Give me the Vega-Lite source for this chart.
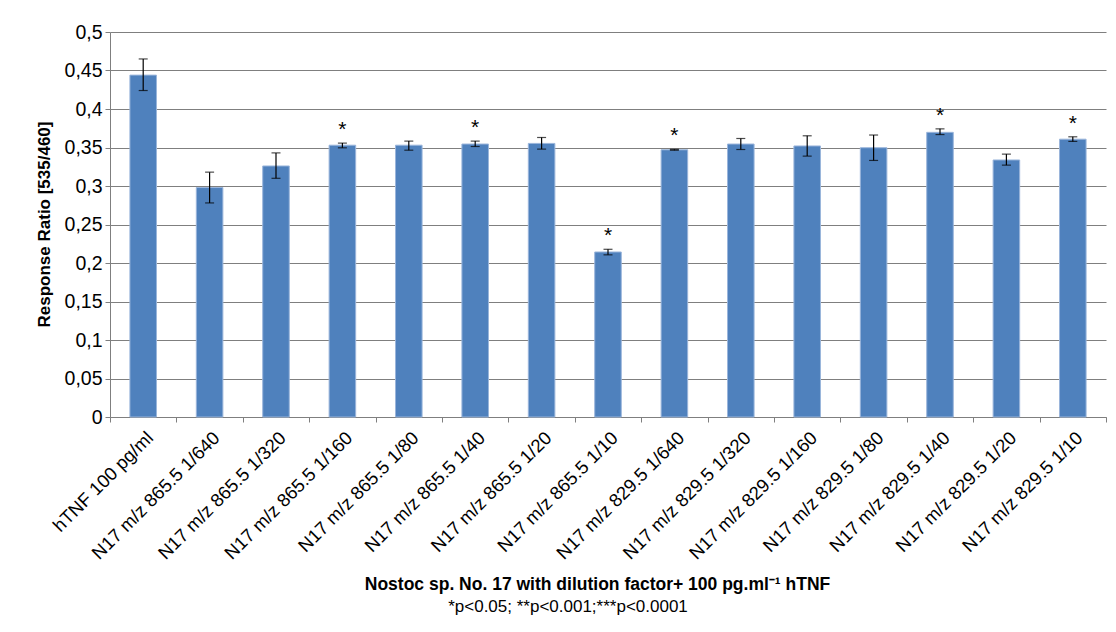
{
  "$schema": "https://vega.github.io/schema/vega-lite/v6.json",
  "width": 996,
  "height": 385,
  "autosize": "none",
  "padding": {"left": 110, "top": 32, "right": 10, "bottom": 215},
  "background": "white",
  "data": {
    "values": [
      {"sample": "hTNF 100 pg/ml", "ratio": 0.444, "lo": 0.424, "hi": 0.465, "sig": ""},
      {"sample": "N17 m/z 865.5 1/640", "ratio": 0.298, "lo": 0.278, "hi": 0.318, "sig": ""},
      {"sample": "N17 m/z 865.5 1/320", "ratio": 0.326, "lo": 0.310, "hi": 0.343, "sig": ""},
      {"sample": "N17 m/z 865.5 1/160", "ratio": 0.353, "lo": 0.3496, "hi": 0.3557, "sig": "*"},
      {"sample": "N17 m/z 865.5 1/80", "ratio": 0.353, "lo": 0.3465, "hi": 0.3583, "sig": ""},
      {"sample": "N17 m/z 865.5 1/40", "ratio": 0.3545, "lo": 0.3513, "hi": 0.3583, "sig": "*"},
      {"sample": "N17 m/z 865.5 1/20", "ratio": 0.3553, "lo": 0.3479, "hi": 0.363, "sig": ""},
      {"sample": "N17 m/z 865.5 1/10", "ratio": 0.2143, "lo": 0.2106, "hi": 0.2178, "sig": "*"},
      {"sample": "N17 m/z 829.5 1/640", "ratio": 0.347, "lo": 0.3464, "hi": 0.3476, "sig": "*"},
      {"sample": "N17 m/z 829.5 1/320", "ratio": 0.3545, "lo": 0.3474, "hi": 0.3617, "sig": ""},
      {"sample": "N17 m/z 829.5 1/160", "ratio": 0.352, "lo": 0.3388, "hi": 0.3652, "sig": ""},
      {"sample": "N17 m/z 829.5 1/80", "ratio": 0.3497, "lo": 0.3332, "hi": 0.3662, "sig": ""},
      {"sample": "N17 m/z 829.5 1/40", "ratio": 0.3697, "lo": 0.3668, "hi": 0.3742, "sig": "*"},
      {"sample": "N17 m/z 829.5 1/20", "ratio": 0.3338, "lo": 0.3271, "hi": 0.3414, "sig": ""},
      {"sample": "N17 m/z 829.5 1/10", "ratio": 0.3608, "lo": 0.3579, "hi": 0.3639, "sig": "*"}
    ]
  },
  "encoding": {
    "x": {
      "field": "sample",
      "type": "nominal",
      "sort": null,
      "title": "Nostoc sp. No. 17 with dilution factor+ 100 pg.ml⁻¹ hTNF",
      "scale": {"paddingInner": 0, "paddingOuter": 0}
    }
  },
  "layer": [
    {
      "mark": {"type": "bar", "width": {"band": 0.4}, "color": "#4F81BD", "stroke": "#9AB5DB", "strokeWidth": 1},
      "encoding": {
        "y": {
          "field": "ratio",
          "type": "quantitative",
          "title": "Response Ratio [535/460]",
          "scale": {"domain": [0, 0.5], "nice": false, "zero": true}
        }
      }
    },
    {
      "mark": {"type": "rule", "color": "#000000", "strokeWidth": 1.2},
      "encoding": {
        "y": {"field": "lo", "type": "quantitative", "title": "Response Ratio [535/460]"},
        "y2": {"field": "hi"}
      }
    },
    {
      "mark": {"type": "tick", "color": "#000000", "size": 9, "thickness": 1.2},
      "encoding": {
        "y": {"field": "lo", "type": "quantitative", "title": "Response Ratio [535/460]"}
      }
    },
    {
      "mark": {"type": "tick", "color": "#000000", "size": 9, "thickness": 1.2},
      "encoding": {
        "y": {"field": "hi", "type": "quantitative", "title": "Response Ratio [535/460]"}
      }
    },
    {
      "mark": {"type": "text", "fontSize": 21, "color": "#000000", "baseline": "alphabetic", "dy": -7},
      "encoding": {
        "y": {"field": "hi", "type": "quantitative", "title": "Response Ratio [535/460]"},
        "text": {"field": "sig"}
      }
    }
  ],
  "title": {
    "text": "*p<0.05; **p<0.001;***p<0.0001",
    "orient": "bottom",
    "anchor": "middle",
    "frame": "group",
    "fontSize": 17,
    "fontWeight": "normal",
    "color": "#000000",
    "offset": 6,
    "dx": -40
  },
  "config": {
    "font": "Liberation Sans",
    "view": {"stroke": null},
    "axisX": {
      "domain": true,
      "ticks": true,
      "titleFontSize": 17.5,
      "titleFontWeight": "bold",
      "titleColor": "#000000",
      "titleX": 487,
      "titleY": 172,
      "titleAnchor": "middle",
      "titleAlign": "center",
      "titleBaseline": "alphabetic",
      "labelAngle": -45,
      "labelAlign": "right",
      "labelBaseline": "top",
      "labelPadding": 6,
      "labelFontSize": 18.5,
      "labelColor": "#000000",
      "labelOverlap": false,
      "labelLimit": 0,
      "tickBand": "extent",
      "tickSize": 5,
      "tickColor": "#7F7F7F",
      "domainColor": "#7F7F7F",
      "grid": false
    },
    "axisY": {
      "domain": true,
      "ticks": true,
      "titleFontSize": 17,
      "titleFontWeight": "bold",
      "titleColor": "#000000",
      "titleX": -66,
      "titleY": 192,
      "titleAlign": "center",
      "titleBaseline": "middle",
      "titleAngle": -90,
      "tickCount": 10,
      "labelExpr": "replace(format(datum.value, '~g'), '.', ',')",
      "labelFontSize": 19.5,
      "labelColor": "#000000",
      "labelPadding": 3,
      "tickSize": 5,
      "tickColor": "#7F7F7F",
      "domainColor": "#7F7F7F",
      "grid": true,
      "gridColor": "#7F7F7F",
      "gridWidth": 1
    }
  }
}
